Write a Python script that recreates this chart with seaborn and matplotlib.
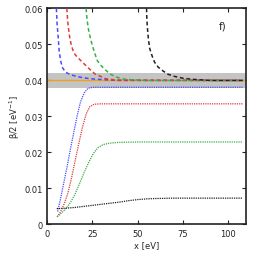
import numpy as np
import pandas as pd
import matplotlib
matplotlib.use("Agg")
import matplotlib.pyplot as plt
import seaborn as sns

sns.set_theme(style="ticks")
plt.rcParams['font.family'] = ['DejaVu Sans']

# lower curves (dotted)
blue_lo_x = [5.8, 7.5, 9.2, 11.0, 12.8, 14.6, 16.5, 18.4, 20.5, 22.5, 25, 30, 108]
blue_lo_y = [0.0036, 0.0074, 0.0116, 0.0160, 0.0208, 0.0253, 0.0300, 0.0340, 0.0366, 0.0378, 0.0381, 0.0381, 0.0381]
red_lo_x = [5.5, 7.5, 9.5, 11.5, 13.5, 15.5, 17.5, 19.5, 21.5, 23.5, 26, 30, 108]
red_lo_y = [0.0021, 0.0036, 0.0058, 0.0088, 0.0130, 0.0178, 0.0225, 0.0270, 0.0306, 0.0327, 0.0334, 0.0335, 0.0335]
green_lo_x = [5.5, 8, 10.5, 13, 15.5, 18, 20.5, 23, 25.5, 28, 31, 35, 40, 50, 108]
green_lo_y = [0.0021, 0.0032, 0.0045, 0.0062, 0.0085, 0.0115, 0.0145, 0.0173, 0.0197, 0.0213, 0.0222, 0.0226, 0.0228, 0.0229, 0.0229]
black_lo_x = [5.3, 10, 15, 20, 25, 30, 35, 40, 45, 50, 55, 60, 70, 108]
black_lo_y = [0.0044, 0.0045, 0.0047, 0.0050, 0.0053, 0.0056, 0.0059, 0.0062, 0.0066, 0.0069, 0.0071, 0.0072, 0.0073, 0.0073]

# upper curves (dashed)
blue_up_x = [5.1, 5.5, 6.1, 6.6, 7.4, 8.3, 10.1, 12.9, 16.5, 20.2, 25.7, 31.2, 40, 108]
blue_up_y = [0.0600, 0.0557, 0.0520, 0.0483, 0.0456, 0.0437, 0.0423, 0.0416, 0.0411, 0.0407, 0.0404, 0.0402, 0.0400, 0.0400]
red_up_x = [10.9, 11.3, 11.9, 12.6, 13.5, 14.4, 15.4, 16.8, 18.2, 20.0, 21.9, 23.7, 26.4, 29.2, 32.0, 38, 108]
red_up_y = [0.0600, 0.0567, 0.0540, 0.0515, 0.0495, 0.0482, 0.0472, 0.0464, 0.0457, 0.0448, 0.0439, 0.0430, 0.0418, 0.0412, 0.0405, 0.0401, 0.0400]
green_up_x = [21.5, 21.9, 22.6, 23.3, 24.2, 25.2, 26.4, 27.7, 29.6, 32.0, 34.7, 38.4, 42.0, 45.7, 55, 108]
green_up_y = [0.0600, 0.0576, 0.0548, 0.0530, 0.0511, 0.0493, 0.0474, 0.0455, 0.0442, 0.0430, 0.0418, 0.0409, 0.0404, 0.0402, 0.0400, 0.0400]
black_up_x = [54.9, 55.1, 55.5, 56.0, 56.7, 57.9, 59.3, 61.3, 64.1, 66.8, 70.5, 75.1, 80.6, 90, 108]
black_up_y = [0.0600, 0.0567, 0.0539, 0.0511, 0.0488, 0.0469, 0.0451, 0.0437, 0.0426, 0.0417, 0.0411, 0.0406, 0.0403, 0.0400, 0.0400]

ref_value = 0.040
band_lo, band_hi = 0.038, 0.042

colors = {"blue": "#4a4aff", "red": "#e03a3a", "green": "#3aae4a", "black": "#202020"}

fig, ax = plt.subplots(figsize=(2.62, 2.55), dpi=100)

ax.axhspan(band_lo, band_hi, color="#c4c4c4", lw=0, zorder=0)
ax.axhline(ref_value, color="#f0a020", lw=1.0, zorder=1)

lower = [(blue_lo_x, blue_lo_y, "blue"), (red_lo_x, red_lo_y, "red"),
         (green_lo_x, green_lo_y, "green"), (black_lo_x, black_lo_y, "black")]
upper = [(blue_up_x, blue_up_y, "blue"), (red_up_x, red_up_y, "red"),
         (green_up_x, green_up_y, "green"), (black_up_x, black_up_y, "black")]

for xs, ys, c in lower:
    df = pd.DataFrame({"x": xs, "y": ys})
    sns.lineplot(data=df, x="x", y="y", ax=ax, color=colors[c], lw=0.9,
                 linestyle=(0, (1, 0.8)), zorder=3)

for xs, ys, c in upper:
    df = pd.DataFrame({"x": xs, "y": ys})
    sns.lineplot(data=df, x="x", y="y", ax=ax, color=colors[c], lw=1.1,
                 linestyle=(0, (2.5, 1.8)), zorder=3)

ax.set_xlim(0, 110)
ax.set_ylim(0, 0.06)
ax.set_xticks([0, 25, 50, 75, 100])
ax.set_yticks([0, 0.01, 0.02, 0.03, 0.04, 0.05, 0.06])
ax.set_yticklabels(["0", "0.01", "0.02", "0.03", "0.04", "0.05", "0.06"])
ax.tick_params(direction="in", top=True, right=True, labelsize=6, length=3,
               width=0.8, colors="#222222", pad=3)
for s in ax.spines.values():
    s.set_linewidth(1.2)
    s.set_color("#222222")

ax.set_xlabel("x [eV]", fontsize=6, labelpad=2)
ax.set_ylabel("β/2 [eV$^{-1}$]", fontsize=6, labelpad=2)
ax.text(96.8, 0.0552, "f)", fontsize=7.5, ha="center", va="center")

fig.subplots_adjust(left=0.18, right=0.94, bottom=0.116, top=0.963)
fig.savefig("out.png", dpi=100)
